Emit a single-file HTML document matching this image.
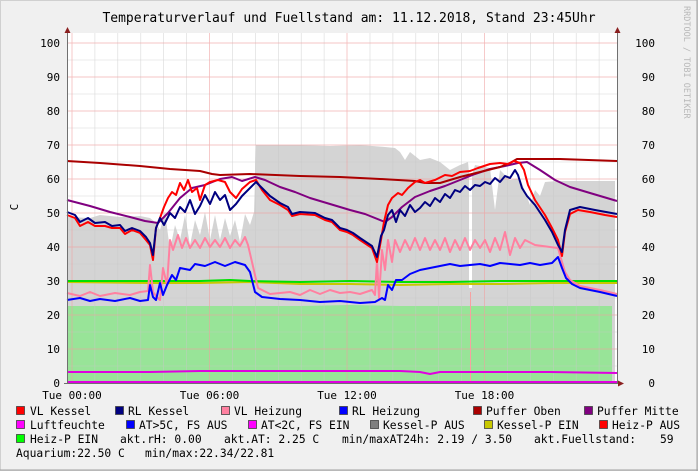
<!DOCTYPE html>
<html><head><meta charset="utf-8"><style>
html,body{margin:0;padding:0;background:#f0f0f0;}
svg{display:block;font-family:"DejaVu Sans Mono","Liberation Mono",monospace;}
</style></head><body>
<svg width="698" height="471" viewBox="0 0 698 471" xmlns="http://www.w3.org/2000/svg">
<rect x="0" y="0" width="698" height="471" fill="#f0f0f0"/>
<rect x="0.5" y="0.5" width="697" height="470" fill="none" stroke="#d0d0d0"/>
<line x1="697" y1="0" x2="697" y2="471" stroke="#a0a0a0"/>
<line x1="0" y1="470" x2="698" y2="470" stroke="#a0a0a0"/>
<text x="349" y="22" font-size="13" text-anchor="middle" fill="#000">Temperaturverlauf und Fuellstand am: 11.12.2018, Stand 23:45Uhr</text>
<text transform="translate(684,6) rotate(90)" font-size="8.5" fill="#b8b8b8">RRDTOOL / TOBI OETIKER</text>
<text transform="translate(18,207) rotate(-90)" font-size="11" text-anchor="middle" fill="#000">C</text>
<!-- plot -->
<rect x="67" y="33" width="550" height="350" fill="#ffffff"/>
<!-- grey area -->
<polygon fill="#d4d4d4" points="67,217 90,218 100,215 120,217 140,216 150,218 155,222 160,230 165,212 170,250 175,225 180,240 185,215 190,245 195,220 200,235 205,212 210,240 215,215 220,240 225,218 230,236 235,220 240,242 245,214 250,225 254,212 256,145 300,145 330,146 360,145 385,147 395,148 400,152 405,160 410,152 420,160 430,158 440,162 450,170 460,165 468,162 470,182 475,165 490,168 495,210 500,170 510,180 520,178 530,205 535,190 540,196 545,182 557,181 615,181 615,383 67,383"/>
<!-- white gap -->
<rect x="469" y="160" width="3" height="128" fill="#fff"/>
<!-- green area -->
<polygon fill="#98e498" points="67,306 150,306 200,306 300,306 350,305 400,306 500,306 612,306 612,383 67,383"/>
<line x1="470.5" y1="292" x2="470.5" y2="383" stroke="#f8a0a0" stroke-width="1"/>
<!-- grid -->
<g stroke="#c8c8c8" stroke-width="0.6" opacity="0.7">
<line x1="67" x2="617" y1="366" y2="366"/><line x1="67" x2="617" y1="332" y2="332"/><line x1="67" x2="617" y1="298" y2="298"/><line x1="67" x2="617" y1="264" y2="264"/><line x1="67" x2="617" y1="230" y2="230"/><line x1="67" x2="617" y1="196" y2="196"/><line x1="67" x2="617" y1="162" y2="162"/><line x1="67" x2="617" y1="128" y2="128"/><line x1="67" x2="617" y1="94" y2="94"/><line x1="67" x2="617" y1="60" y2="60"/>
<line x1="94.9" x2="94.9" y1="33" y2="383"/><line x1="117.8" x2="117.8" y1="33" y2="383"/><line x1="140.8" x2="140.8" y1="33" y2="383"/><line x1="163.7" x2="163.7" y1="33" y2="383"/><line x1="186.6" x2="186.6" y1="33" y2="383"/>
<line x1="232.4" x2="232.4" y1="33" y2="383"/><line x1="255.3" x2="255.3" y1="33" y2="383"/><line x1="278.3" x2="278.3" y1="33" y2="383"/><line x1="301.2" x2="301.2" y1="33" y2="383"/><line x1="324.1" x2="324.1" y1="33" y2="383"/>
<line x1="370" x2="370" y1="33" y2="383"/><line x1="392.9" x2="392.9" y1="33" y2="383"/><line x1="415.8" x2="415.8" y1="33" y2="383"/><line x1="438.7" x2="438.7" y1="33" y2="383"/><line x1="461.6" x2="461.6" y1="33" y2="383"/>
<line x1="507.5" x2="507.5" y1="33" y2="383"/><line x1="530.4" x2="530.4" y1="33" y2="383"/><line x1="553.3" x2="553.3" y1="33" y2="383"/><line x1="576.2" x2="576.2" y1="33" y2="383"/><line x1="599.1" x2="599.1" y1="33" y2="383"/>
</g>
<g stroke="#f0a0a0" stroke-width="0.7" opacity="0.8">
<line x1="67" x2="617" y1="349" y2="349"/><line x1="67" x2="617" y1="315" y2="315"/><line x1="67" x2="617" y1="281" y2="281"/><line x1="67" x2="617" y1="247" y2="247"/><line x1="67" x2="617" y1="213" y2="213"/><line x1="67" x2="617" y1="179" y2="179"/><line x1="67" x2="617" y1="145" y2="145"/><line x1="67" x2="617" y1="111" y2="111"/><line x1="67" x2="617" y1="77" y2="77"/><line x1="67" x2="617" y1="43" y2="43"/>
<line x1="72" x2="72" y1="33" y2="383"/><line x1="209.5" x2="209.5" y1="33" y2="383"/><line x1="347" x2="347" y1="33" y2="383"/><line x1="484.5" x2="484.5" y1="33" y2="383"/>
</g>
<!-- series -->
<g fill="none" stroke-linejoin="round" stroke-width="2">
<polyline stroke="#e000e0" points="67,372 150,372 200,371 300,371 350,371 400,371 420,372 430,374 435,373 440,372 500,372 550,372 617,373"/>
<polyline stroke="#c8c800" points="67,282 150,283 200,283 250,282 300,284 350,284 400,285 450,284 500,284 550,283 617,283"/>
<polyline stroke="#00e000" points="67,281 150,281 200,281 230,280 250,281 300,282 350,281 400,282 450,282 500,281 550,281 617,281"/>
<polyline stroke="#ff80a0" points="67,293 80,296 90,292 100,296 115,293 130,295 140,292 148,291 150,265 153,292 156,296 160,300 163,268 167,285 170,240 173,250 178,235 182,248 186,238 190,248 195,240 200,248 205,238 210,247 215,240 220,247 225,238 230,248 235,240 240,246 245,237 248,245 252,262 258,288 270,294 290,292 300,295 310,290 320,294 330,290 340,293 350,292 360,294 372,290 375,295 377,260 379,298 382,250 385,270 388,240 392,262 395,240 400,252 405,240 410,250 415,238 420,250 425,238 430,250 435,240 440,250 445,238 450,252 455,240 460,250 465,238 470,250 475,240 480,248 485,240 490,252 495,238 500,250 505,232 510,255 515,238 520,248 525,240 535,245 550,247 558,248 562,262 565,272 570,280 580,286 600,290 617,294"/>
<polyline stroke="#0000ff" points="67,300 80,298 90,301 100,299 115,301 130,298 140,301 148,300 150,285 153,297 156,300 160,283 163,295 167,285 172,275 176,280 180,268 190,270 195,264 205,266 215,262 225,266 235,262 245,265 250,272 255,292 262,297 280,299 300,300 320,302 340,301 360,303 375,302 382,298 385,300 388,285 392,290 396,280 402,280 410,274 420,270 430,268 440,266 450,264 460,266 470,265 480,264 490,266 500,263 510,264 520,265 530,263 540,265 552,263 558,257 562,268 566,278 572,284 580,288 600,292 617,296"/>
<polyline stroke="#800080" points="67,200 90,206 110,212 130,217 145,221 158,223 168,213 180,198 192,188 205,185 220,179 232,177 242,181 255,177 265,180 280,187 295,192 310,198 330,204 350,210 365,214 385,222 392,217 402,207 415,197 430,191 445,186 460,180 475,174 490,169 505,166 518,163 527,162 540,170 555,180 570,187 590,193 617,201"/>
<polyline stroke="#aa0000" points="67,161 100,163 140,166 170,169 200,171 212,174 220,175 250,174 300,176 340,177 380,179 415,181 425,183 440,183 460,177 480,172 500,167 510,163 517,159 560,159 617,161"/>
<polyline stroke="#ff0000" points="67,215 75,218 80,226 88,222 95,226 105,226 112,228 120,228 125,234 132,230 140,233 146,240 150,245 153,260 156,228 160,218 164,207 168,198 172,192 176,195 180,183 184,190 188,180 192,192 197,188 200,200 205,185 210,182 218,180 225,182 230,192 236,198 242,189 250,182 256,180 262,190 270,200 280,205 288,210 292,216 300,214 315,215 325,220 332,222 340,230 347,232 353,235 360,240 366,244 372,248 377,262 381,240 384,222 388,205 392,198 398,193 402,195 408,188 415,182 420,180 425,183 435,180 445,175 452,176 460,172 470,171 478,168 490,164 500,163 508,164 514,161 520,163 524,170 528,185 535,200 545,215 552,228 558,240 562,256 565,232 570,214 578,210 590,212 605,215 617,217"/>
<polyline stroke="#000080" points="67,212 75,215 80,222 88,218 95,223 105,222 112,226 120,225 125,231 132,228 140,231 146,237 150,243 153,255 156,228 160,218 164,225 170,213 175,218 180,207 185,212 190,200 195,214 200,206 205,195 210,204 215,192 220,200 225,195 230,210 236,204 242,196 250,188 256,182 262,188 270,196 280,203 288,207 292,214 300,212 315,213 325,218 332,220 340,228 347,230 353,233 360,238 366,242 372,246 377,257 381,236 384,230 388,215 392,210 396,222 400,210 405,216 410,205 415,212 420,208 425,202 430,206 435,198 440,202 445,194 450,198 455,190 460,192 465,186 470,190 475,185 480,186 485,182 490,184 495,178 500,182 505,176 510,178 515,170 518,175 522,188 527,196 535,205 545,220 552,232 558,245 562,252 565,230 570,210 580,207 595,210 617,214"/>
<polyline stroke="#e000e0" stroke-width="2" points="67,382 617,382"/>
</g>
<!-- axes -->
<g stroke="#707070" stroke-width="1">
<line x1="67.5" y1="30" x2="67.5" y2="383"/>
<line x1="617.5" y1="30" x2="617.5" y2="383"/>
<line x1="64" y1="383.5" x2="620" y2="383.5"/>
</g>
<polygon points="64.5,33 67.5,27 70.5,33" fill="#8b2020"/>
<polygon points="614.5,33 617.5,27 620.5,33" fill="#8b2020"/>
<polygon points="618,380.5 624,383.5 618,386.5" fill="#8b2020"/>
<g font-size="11" fill="#000">
<g text-anchor="end">
<text x="60" y="47">100</text><text x="60" y="81">90</text><text x="60" y="115">80</text><text x="60" y="149">70</text><text x="60" y="183">60</text><text x="60" y="217">50</text><text x="60" y="251">40</text><text x="60" y="285">30</text><text x="60" y="319">20</text><text x="60" y="353">10</text><text x="60" y="387">0</text>
<text x="655" y="47">100</text><text x="655" y="81">90</text><text x="655" y="115">80</text><text x="655" y="149">70</text><text x="655" y="183">60</text><text x="655" y="217">50</text><text x="655" y="251">40</text><text x="655" y="285">30</text><text x="655" y="319">20</text><text x="655" y="353">10</text><text x="655" y="387">0</text>
</g>
<g text-anchor="middle">
<text x="72" y="399">Tue 00:00</text><text x="209.5" y="399">Tue 06:00</text><text x="347" y="399">Tue 12:00</text><text x="484.5" y="399">Tue 18:00</text>
</g>
</g>
<!-- legend -->
<g stroke="#404040" stroke-width="0.8">
<rect x="16.5" y="406.5" width="8" height="8" fill="#ff0000"/>
<rect x="115.5" y="406.5" width="8" height="8" fill="#000080"/>
<rect x="221.5" y="406.5" width="8" height="8" fill="#ff80a0"/>
<rect x="339.5" y="406.5" width="8" height="8" fill="#0000ff"/>
<rect x="473.5" y="406.5" width="8" height="8" fill="#aa0000"/>
<rect x="584.5" y="406.5" width="8" height="8" fill="#800080"/>
<rect x="16.5" y="420.5" width="8" height="8" fill="#ff00ff"/>
<rect x="126.5" y="420.5" width="8" height="8" fill="#0000ff"/>
<rect x="248.5" y="420.5" width="8" height="8" fill="#ff00ff"/>
<rect x="370.5" y="420.5" width="8" height="8" fill="#808080"/>
<rect x="484.5" y="420.5" width="8" height="8" fill="#c8c800"/>
<rect x="599.5" y="420.5" width="8" height="8" fill="#ff0000"/>
<rect x="16.5" y="434.5" width="8" height="8" fill="#00ff00"/>
</g>
<g font-size="11.3" fill="#000" style="white-space:pre">
<text x="30" y="415">VL Kessel</text>
<text x="128" y="415">RL Kessel</text>
<text x="234" y="415">VL Heizung</text>
<text x="352" y="415">RL Heizung</text>
<text x="486" y="415">Puffer Oben</text>
<text x="597" y="415">Puffer Mitte</text>
<text x="30" y="429">Luftfeuchte</text>
<text x="139" y="429">AT&gt;5C, FS AUS</text>
<text x="261" y="429">AT&lt;2C, FS EIN</text>
<text x="383" y="429">Kessel-P AUS</text>
<text x="497" y="429">Kessel-P EIN</text>
<text x="612" y="429">Heiz-P AUS</text>
<text x="30" y="443">Heiz-P EIN</text>
<text x="120" y="443">akt.rH: 0.00</text>
<text x="224" y="443">akt.AT: 2.25 C</text>
<text x="342" y="443">min/maxAT24h: 2.19 / 3.50</text>
<text x="534" y="443">akt.Fuellstand:</text>
<text x="660" y="443">59</text>
<text x="16" y="457">Aquarium:22.50 C</text>
<text x="145" y="457">min/max:22.34/22.81</text>
</g>
</svg>
</body></html>
